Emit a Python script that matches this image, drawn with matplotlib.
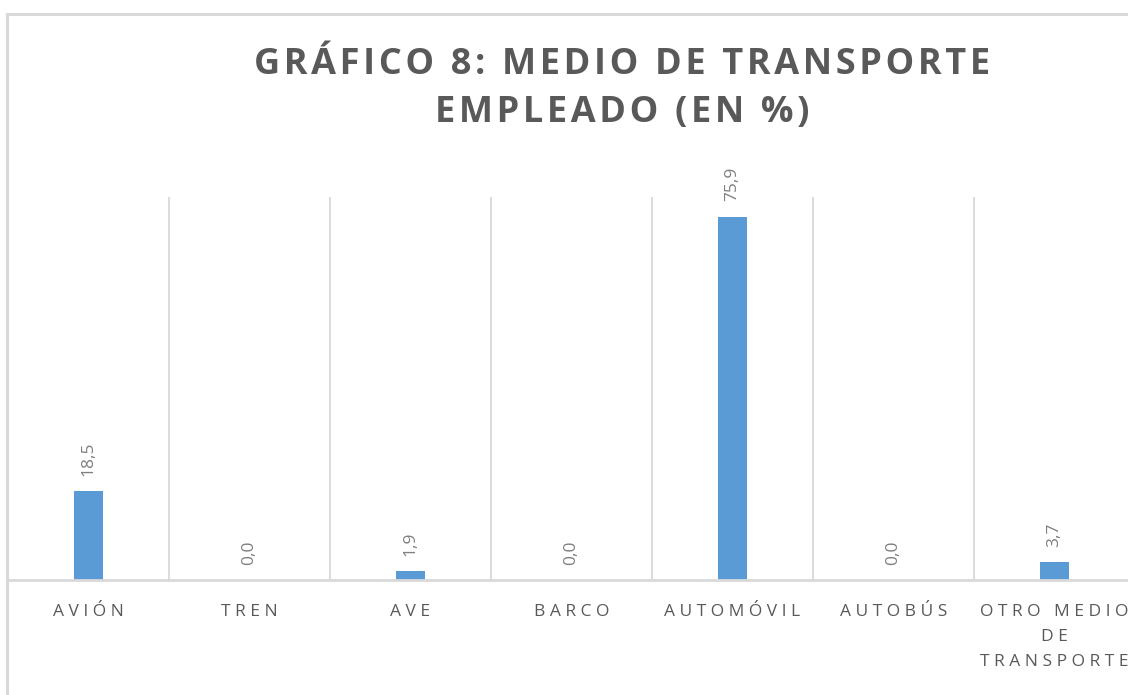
import numpy as np
import matplotlib
matplotlib.use('Agg')
import matplotlib.pyplot as plt
from matplotlib.patches import Rectangle

# datos del gráfico
categorias = ['AVIÓN', 'TREN', 'AVE', 'BARCO', 'AUTOMÓVIL', 'AUTOBÚS', 'OTRO MEDIO\nDE\nTRANSPORTE']
valores = [18.5, 0.0, 1.9, 0.0, 75.9, 0.0, 3.7]
titulo = 'GRÁFICO 8: MEDIO DE TRANSPORTE\nEMPLEADO (EN %)'

plt.rcParams['font.family'] = ['Open Sans', 'DejaVu Sans']


def espaciado(texto, sep=' ', sep_palabra='   '):
    # separar letras como el espaciado de caracteres de Excel
    lineas = []
    for linea in texto.split('\n'):
        palabras = [sep.join(p) for p in linea.split(' ')]
        lineas.append(sep_palabra.join(palabras))
    return '\n'.join(lineas)


fig = plt.figure(figsize=(11.28, 6.95), dpi=100)
W, H = 1128, 695

# marco del gráfico
fig.patches.append(Rectangle((7 / W, -0.1), 1.2, 1 - 14 / H + 0.1,
                             transform=fig.transFigure, fill=False,
                             edgecolor='#d9d9d9', linewidth=2.2))

ax = fig.add_axes([8 / W, 1 - 580 / H, 7 * 161 / W, (580 - 197) / H])
x = np.arange(len(categorias))
ax.bar(x, valores, width=0.18, color='#5b9bd5', zorder=3)

ax.set_xlim(-0.5, len(categorias) - 0.5)
ax.set_ylim(0, 80)
ax.set_yticks([])
ax.set_xticks(x)
ax.set_xticklabels([espaciado(c) for c in categorias], fontsize=12.5,
                   color='#595959', linespacing=1.75)
ax.tick_params(axis='x', length=0, pad=17)
ax.set_xticks(x[:-1] + 0.5, minor=True)
ax.tick_params(axis='x', which='minor', length=0)
ax.grid(axis='x', which='minor', color='#d9d9d9', linewidth=1.3)
ax.grid(axis='x', which='major', visible=False)
for lado in ['top', 'left', 'right']:
    ax.spines[lado].set_visible(False)
ax.spines['bottom'].set_color('#d9d9d9')
ax.spines['bottom'].set_linewidth(2)
ax.spines['bottom'].set_zorder(4)

# etiquetas de datos
for xi, v in zip(x, valores):
    ax.annotate(('%.1f' % v).replace('.', ','), (xi, v), xytext=(0, 11),
                textcoords='offset points', rotation=90, ha='center', va='bottom',
                fontsize=12.5, color='#7f7f7f')

fig.text(622 / W, 1 - 89 / H, espaciado(titulo, '\u200a', '\u200a \u200a'),
         ha='center', va='center', fontsize=26,
         fontweight='bold', color='#595959', linespacing=1.42)

fig.savefig('out.png', dpi=100)
